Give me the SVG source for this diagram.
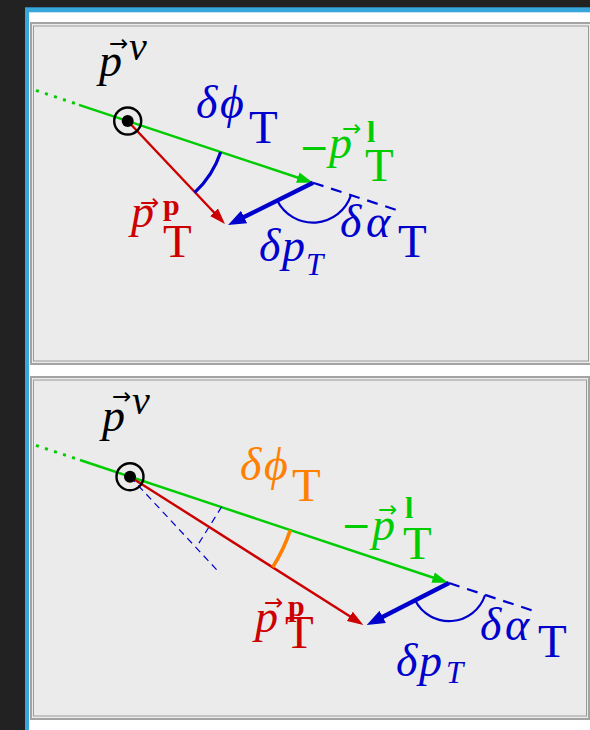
<svg xmlns="http://www.w3.org/2000/svg" width="590" height="730" viewBox="0 0 590 730">
<style>
.mi{font-family:"Liberation Serif","DejaVu Serif",serif;font-style:italic;font-size:46px}
.rm{font-family:"Liberation Serif",serif;font-size:47px}
.bf{font-family:"Liberation Serif",serif;font-weight:bold;font-size:30px}
.vec{font-family:"DejaVu Sans",sans-serif;font-size:23px}
.minus{font-family:"DejaVu Sans",sans-serif;font-size:36px}
.sub{font-family:"Liberation Serif",serif;font-style:italic;font-size:31px}
.blue{fill:#0000cc}.red{fill:#cc0000}.green{fill:#00cc00}.orange{fill:#ff8000}.black{fill:#000}
.panel{fill:#ebebeb;stroke:#a3a3a3;stroke-width:2}
.inner{fill:none;stroke:#9a9a9a;stroke-width:1}
.gl{stroke:#00cc00;stroke-width:2.4;fill:none}
.gdot{stroke:#00cc00;stroke-width:3;stroke-dasharray:3 6.5;fill:none}
.rl{stroke:#cc0000;stroke-width:2.4;fill:none}
.bl{stroke:#0000cc;stroke-width:4.3;fill:none}
.bdash{stroke:#0000cc;stroke-width:2.2;stroke-dasharray:11 8;fill:none}
.thin{stroke:#0000cc;stroke-width:1.2;stroke-dasharray:7 5;fill:none}
.arcb{stroke:#0000cc;stroke-width:3.2;fill:none}
.arca{stroke:#0000cc;stroke-width:2.2;fill:none}
.arco{stroke:#ff8000;stroke-width:3.6;fill:none}
</style>
<defs>
<marker id="ag" markerUnits="userSpaceOnUse" markerWidth="18" markerHeight="12" refX="6" refY="6" orient="auto" viewBox="0 0 18 12"><path d="M0,0.5 L16,6 L0,11.5 z" fill="#00cc00"/></marker>
<marker id="ar" markerUnits="userSpaceOnUse" markerWidth="18" markerHeight="12" refX="6" refY="6" orient="auto" viewBox="0 0 18 12"><path d="M0,0.5 L16,6 L0,11.5 z" fill="#cc0000"/></marker>
<marker id="ab" markerUnits="userSpaceOnUse" markerWidth="20" markerHeight="16" refX="8" refY="8" orient="auto" viewBox="0 0 20 16"><path d="M0,1 L18,8 L0,15 z" fill="#0000cc"/></marker>
</defs>

<g id="frame">
<rect x="0" y="0" width="590" height="730" fill="#222222"/>
<rect x="25" y="7.3" width="565" height="722.7" fill="#36a6db"/>
<rect x="29" y="12.3" width="561" height="717.7" fill="#ffffff"/>
</g>

<g id="panel1">
<rect class="panel" x="31" y="23" width="560" height="341"/>
<rect class="inner" x="33.5" y="26" width="555" height="335"/>
<g id="connectors1">
<line class="gdot" x1="36" y1="90.4" x2="76" y2="103.8"/>
<line class="gl" x1="79" y1="104.8" x2="303.5" y2="179.5" marker-end="url(#ag)"/>
<line class="rl" x1="127.7" y1="121" x2="218.1" y2="216.7" marker-end="url(#ar)"/>
<line class="bdash" x1="313" y1="182.7" x2="401.7" y2="211.7"/>
<line class="bl" x1="313" y1="182.7" x2="237" y2="220.5" marker-end="url(#ab)"/>
<path class="arcb" d="M220.7,151.9 A98,98 0 0 1 194.6,192.6"/>
<path class="arca" d="M277.2,200.5 A40,40 0 0 0 351,195.2"/>
</g>
<g id="nu1">
<circle cx="127.7" cy="121" r="13.5" fill="none" stroke="#000" stroke-width="2.4"/>
<circle cx="127.7" cy="121" r="6" fill="#000"/>
</g>
<g id="labels1">
<text class="mi black" x="99" y="76">p</text>
<text class="vec black" x="109" y="51">→</text>
<text class="mi black" x="129" y="60" style="font-size:40px">ν</text>

<text class="mi blue" x="196" y="118">δ</text>
<text class="mi blue" x="220" y="118">ϕ</text>
<text class="rm blue" x="249" y="143">T</text>

<text class="minus green" x="299" y="160">−</text>
<text class="mi green" x="329" y="158">p</text>
<text class="vec green" x="342" y="136">→</text>
<text class="bf green" x="367" y="141.5">l</text>
<text class="rm green" x="365" y="181">T</text>

<text class="mi red" x="131" y="227">p</text>
<text class="vec red" x="140" y="210">→</text>
<text class="bf red" x="163" y="215">p</text>
<text class="rm red" x="163" y="257">T</text>

<text class="mi blue" x="340" y="237">δ</text>
<text class="mi blue" x="366" y="237">α</text>
<text class="rm blue" x="398" y="257">T</text>

<text class="mi blue" x="259" y="261">δ</text>
<text class="mi blue" x="282" y="261">p</text>
<text class="sub blue" x="306" y="275">T</text>
</g>
</g>

<g id="panel2">
<rect class="panel" x="31" y="377" width="558" height="342"/>
<rect class="inner" x="33.5" y="380" width="553" height="336"/>
<g id="connectors2">
<line class="gdot" x1="36" y1="445.4" x2="76" y2="458.7"/>
<line class="gl" x1="80" y1="460" x2="438.8" y2="579.5" marker-end="url(#ag)"/>
<line class="thin" x1="130" y1="476.7" x2="220" y2="573.3"/>
<line class="thin" x1="221.7" y1="506.7" x2="196.7" y2="546.7"/>
<line class="rl" x1="130" y1="476.7" x2="354.9" y2="619.6" marker-end="url(#ar)"/>
<line class="bdash" x1="449" y1="583" x2="537" y2="612"/>
<line class="bl" x1="449" y1="583" x2="375.6" y2="620.5" marker-end="url(#ab)"/>
<path class="arco" d="M290.3,530.1 A169,169 0 0 1 272.7,567.2"/>
<path class="arca" d="M415.1,600.3 A38,38 0 0 0 485.1,595"/>
</g>
<g id="nu2">
<circle cx="130" cy="476.7" r="13.5" fill="none" stroke="#000" stroke-width="2.4"/>
<circle cx="130" cy="476.7" r="6" fill="#000"/>
</g>
<g id="labels2">
<text class="mi black" x="102" y="431">p</text>
<text class="vec black" x="112" y="404">→</text>
<text class="mi black" x="132" y="414" style="font-size:40px">ν</text>

<text class="mi orange" x="240" y="480">δ</text>
<text class="mi orange" x="264" y="480">ϕ</text>
<text class="rm orange" x="292" y="501">T</text>

<text class="minus green" x="341" y="538">−</text>
<text class="mi green" x="372" y="540">p</text>
<text class="vec green" x="378" y="517">→</text>
<text class="bf green" x="405" y="518">l</text>
<text class="rm green" x="403" y="559">T</text>

<text class="mi red" x="255" y="632">p</text>
<text class="vec red" x="264" y="610">→</text>
<text class="bf red" x="288" y="616">p</text>
<text class="rm red" x="285" y="648">T</text>

<text class="mi blue" x="480" y="640">δ</text>
<text class="mi blue" x="505" y="640">α</text>
<text class="rm blue" x="538" y="657">T</text>

<text class="mi blue" x="396" y="676">δ</text>
<text class="mi blue" x="419" y="676">p</text>
<text class="sub blue" x="446" y="683">T</text>
</g>
</g>
</svg>
